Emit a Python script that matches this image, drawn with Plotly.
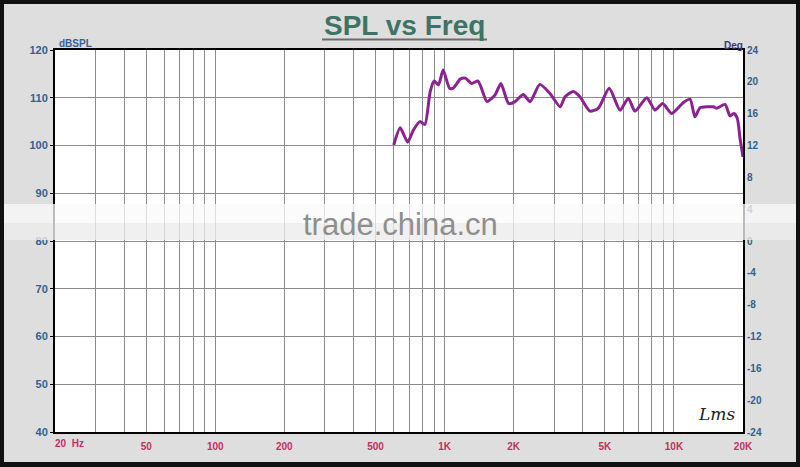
import plotly.graph_objects as go

# ---- data ----
freq_hz = [600, 640, 690, 730, 780, 820, 865, 900, 940, 985, 1050, 1090, 1170, 1230,
           1310, 1400, 1530, 1660, 1760, 1900, 2030, 2200, 2360, 2600, 2880, 3190,
           3350, 3640, 3890, 4300, 4680, 5220, 5820, 6320, 6760, 7610, 8270, 8930,
           9780, 10990, 11750, 12350, 12990, 14850, 15360, 16700, 17560, 18280,
           18890, 19410, 20000]
spl_db = [100.1, 103.7, 100.7, 103.2, 105.0, 104.4, 111.3, 113.5, 112.7, 115.8,
          112.0, 112.0, 113.9, 114.1, 113.0, 113.5, 109.2, 110.6, 113.0, 108.8,
          109.2, 110.7, 109.2, 112.8, 110.9, 108.1, 110.2, 111.3, 110.2, 107.2,
          107.8, 112.0, 107.4, 109.9, 107.2, 110.0, 107.4, 108.8, 106.7, 109.0,
          109.7, 106.0, 107.9, 108.1, 107.8, 108.6, 106.2, 106.7, 105.7, 101.5, 97.6]

grid_freqs = [20, 30, 40, 50, 60, 70, 80, 90, 100, 200, 300, 400, 500, 600, 700, 800, 900,
              1000, 2000, 3000, 4000, 5000, 6000, 7000, 8000, 9000, 10000, 20000]
freq_labels = {50: "50", 100: "100", 200: "200", 500: "500", 1000: "1K",
               2000: "2K", 5000: "5K", 10000: "10K", 20000: "20K"}
spl_ticks = [40, 50, 60, 70, 80, 90, 100, 110, 120]
deg_ticks = [-24, -20, -16, -12, -8, -4, 0, 4, 8, 12, 16, 20, 24]
deg_labels = ["-24", "-20", "-16", "-12", "-8", "-4", "0", "4", "8", "12", "16", "20", "24"]

W, H = 800, 467
L, R, T, B = 55, 743, 50, 432


def px(x):
    return (x - L) / (R - L)


def py(y):
    return (B - y) / (B - T)


fig = go.Figure()
fig.add_trace(go.Scatter(x=freq_hz, y=spl_db, mode="lines",
                         line=dict(color="#8b2290", width=3, shape="spline", smoothing=0.6),
                         hoverinfo="skip", showlegend=False))
fig.add_trace(go.Scatter(x=[1000], y=[0], yaxis="y2", mode="markers",
                         marker=dict(opacity=0), hoverinfo="skip", showlegend=False))

font = "Arial, Liberation Sans, sans-serif"
fig.update_layout(
    width=W, height=H,
    margin=dict(l=L, r=W - R, t=T, b=H - B, pad=0),
    paper_bgcolor="#dedede", plot_bgcolor="white",
    xaxis=dict(type="log", range=[1.30103, 4.30103],
               tickvals=grid_freqs,
               ticktext=[freq_labels.get(f, "") for f in grid_freqs],
               tickfont=dict(family=font, size=10, color="#c2305e", weight="bold"),
               showgrid=True, gridcolor="#8c8c8c", gridwidth=1,
               showline=True, linecolor="black", linewidth=2, mirror=True,
               ticks="", zeroline=False, ticklabelstandoff=4),
    yaxis=dict(range=[40, 120], tickvals=spl_ticks,
               tickfont=dict(family=font, size=11, color="#33608c", weight="bold"),
               showgrid=True, gridcolor="#8c8c8c", gridwidth=1,
               showline=True, linecolor="black", linewidth=2, mirror=True,
               ticks="outside", ticklen=3, tickcolor="black", zeroline=False,
               ticklabelstandoff=0),
    yaxis2=dict(range=[-24, 24], tickvals=deg_ticks, ticktext=deg_labels,
                overlaying="y", side="right",
                tickfont=dict(family=font, size=10, color="#33608c", weight="bold"),
                showgrid=False, zeroline=False, ticks="", ticklabelstandoff=3),
    showlegend=False,
)

shapes = []
# outer dark frame
for (x0, y0, x1, y1) in [(0, 0, W, 4), (0, 0, 4, H), (796, 0, W, H), (0, 462, W, H)]:
    shapes.append(dict(type="rect", xref="paper", yref="paper",
                       x0=px(x0), x1=px(x1), y0=py(y0), y1=py(y1),
                       fillcolor="#111111", line=dict(width=0), layer="above"))
# title underline
shapes.append(dict(type="line", xref="paper", yref="paper",
                   x0=px(322), x1=px(487), y0=py(39.5), y1=py(39.5),
                   line=dict(color="#6a6a6a", width=2)))
# watermark band
shapes.append(dict(type="rect", xref="paper", yref="paper",
                   x0=px(4), x1=px(796), y0=py(204), y1=py(223),
                   fillcolor="rgba(250,250,250,0.75)", line=dict(width=0), layer="above"))
shapes.append(dict(type="rect", xref="paper", yref="paper",
                   x0=px(4), x1=px(796), y0=py(223), y1=py(240),
                   fillcolor="rgba(236,236,236,0.8)", line=dict(width=0), layer="above"))
fig.update_layout(shapes=shapes)

ann = [
    dict(text="<b>SPL vs Freq</b>", x=px(404), y=py(26), font=dict(family=font, size=28, color="#3d7466")),
    dict(text="<b>dBSPL</b>", x=px(57), y=py(44), xanchor="left",
         font=dict(family=font, size=10, color="#34609a")),
    dict(text="<b>Deg</b>", x=px(745), y=py(45), xanchor="right",
         font=dict(family=font, size=10, color="#3a3a78")),
    dict(text="<b>20  Hz</b>", x=px(53), y=py(444), xanchor="left",
         font=dict(family=font, size=10, color="#c2305e")),
    dict(text="trade.china.cn", x=px(400), y=py(224), font=dict(family=font, size=31, color="#8e8e8e")),
    dict(text="<i>Lms</i>", x=px(716), y=py(414),
         font=dict(family="DejaVu Serif, serif", size=17, color="#222222")),
]
for a in ann:
    a.update(xref="paper", yref="paper", showarrow=False, yanchor="middle")
    a.setdefault("xanchor", "center")
fig.update_layout(annotations=ann)

fig.write_html("out.html", config={"displayModeBar": False},
               post_script="document.body.style.margin='0';")
